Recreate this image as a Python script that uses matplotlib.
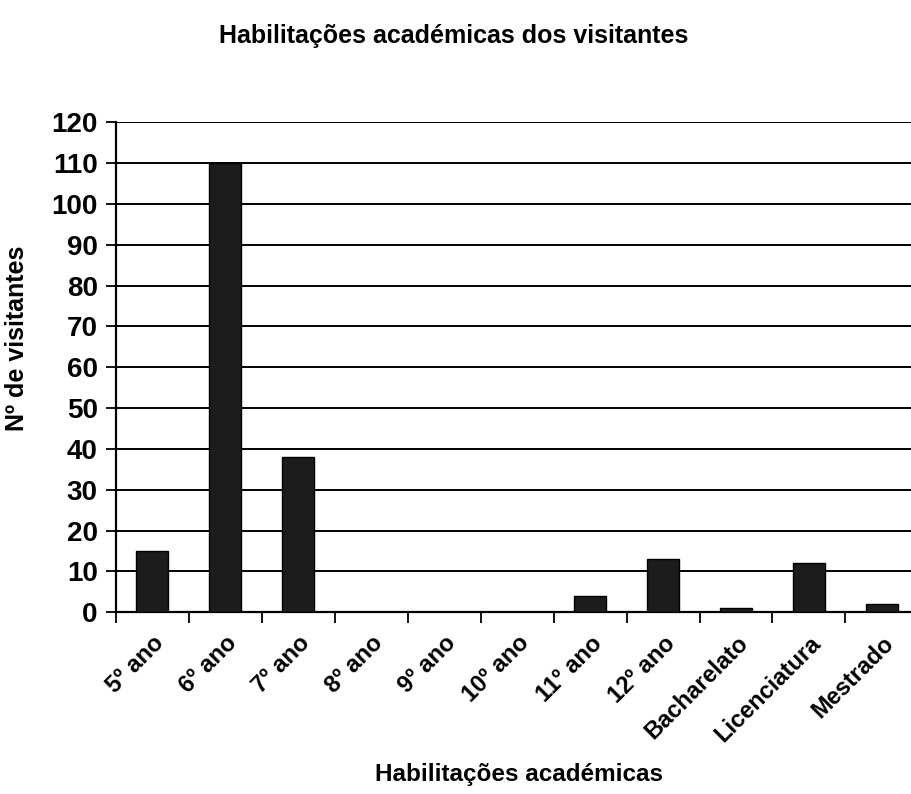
import matplotlib.pyplot as plt
import numpy as np

plt.rcParams['font.family'] = ['Liberation Sans', 'DejaVu Sans']
plt.rcParams['font.weight'] = 'bold'
plt.rcParams['axes.labelweight'] = 'bold'

categories = ['5º ano', '6º ano', '7º ano', '8º ano', '9º ano', '10º ano',
              '11º ano', '12º ano', 'Bacharelato', 'Licenciatura', 'Mestrado']
visitantes = [15, 110, 38, 0, 0, 0, 4, 13, 1, 12, 2]
y_ticks = list(range(0, 121, 10))

fig = plt.figure(figsize=(9.12, 7.94), dpi=100)
ax = fig.add_axes([0.127, 0.229, 0.88, 0.617])

x = np.arange(len(categories))
ax.bar(x, visitantes, width=0.44, color='#1c1c1c', edgecolor='black',
       linewidth=1, zorder=3)

ax.set_ylim(0, 120)
ax.set_xlim(-0.5, len(categories) - 0.5)
ax.set_yticks(y_ticks)
ax.tick_params(axis='y', labelsize=20, length=7, width=1.3, direction='out', pad=6)
ax.yaxis.grid(True, color='black', linewidth=1.4, zorder=0)

ax.set_xticks(x)
ax.set_xticklabels(categories, rotation=45, ha='right', rotation_mode='anchor',
                   fontsize=17)
ax.tick_params(axis='x', length=0, pad=14)
ax.set_xticks(np.arange(-0.5, len(categories)), minor=True)
ax.tick_params(axis='x', which='minor', length=8, width=1.3, direction='out')

for side in ['top', 'right']:
    ax.spines[side].set_visible(False)
for side in ['left', 'bottom']:
    ax.spines[side].set_linewidth(1.6)

ax.set_ylabel('Nº de visitantes', fontsize=18)
ax.yaxis.set_label_coords(-0.108, 0.56)
fig.text(0.569, 0.025, 'Habilitações académicas', ha='center', va='center',
         fontsize=17.5, fontweight='bold')
fig.text(0.498, 0.955, 'Habilitações académicas dos visitantes', ha='center',
         va='center', fontsize=18, fontweight='bold')

fig.savefig('out.png', dpi=100, facecolor='white')
